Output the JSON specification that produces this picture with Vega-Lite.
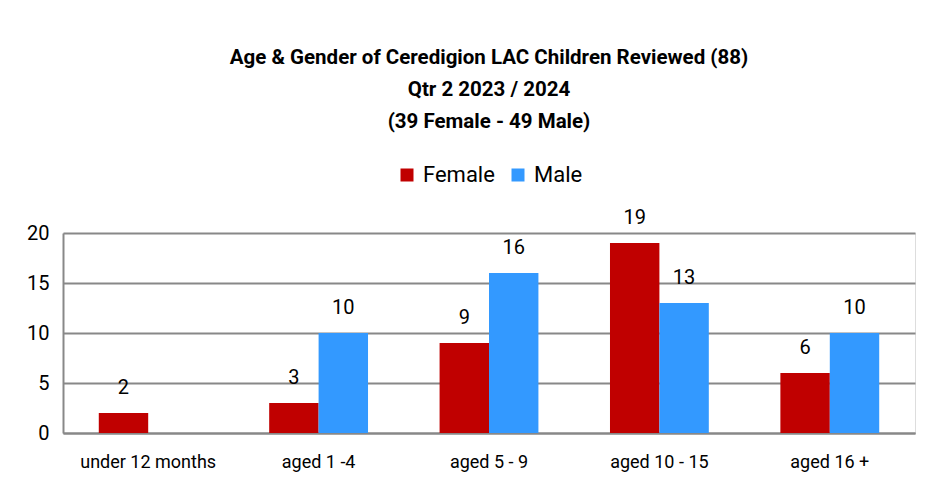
{
  "$schema": "https://vega.github.io/schema/vega-lite/v6.json",
  "width": 852,
  "height": 200,
  "autosize": {"type": "none"},
  "padding": {"left": 63, "top": 233, "right": 14, "bottom": 51},
  "background": "white",
  "title": {
    "text": ["Age & Gender of Ceredigion LAC Children Reviewed (88)", "Qtr 2 2023 / 2024", "(39 Female - 49 Male)"],
    "font": "Roboto, Liberation Sans, sans-serif",
    "fontSize": 20.5,
    "fontWeight": "bold",
    "lineHeight": 32,
    "anchor": "middle",
    "offset": 32,
    "color": "#000000"
  },
  "data": {
    "values": [
      {"age": "under 12 months", "gender": "Female", "count": 2},
      {"age": "under 12 months", "gender": "Male", "count": 0},
      {"age": "aged 1 -4", "gender": "Female", "count": 3},
      {"age": "aged 1 -4", "gender": "Male", "count": 10},
      {"age": "aged 5 - 9", "gender": "Female", "count": 9},
      {"age": "aged 5 - 9", "gender": "Male", "count": 16},
      {"age": "aged 10 - 15", "gender": "Female", "count": 19},
      {"age": "aged 10 - 15", "gender": "Male", "count": 13},
      {"age": "aged 16 +", "gender": "Female", "count": 6},
      {"age": "aged 16 +", "gender": "Male", "count": 10}
    ]
  },
  "encoding": {
    "x": {
      "field": "age",
      "type": "nominal",
      "sort": ["under 12 months", "aged 1 -4", "aged 5 - 9", "aged 10 - 15", "aged 16 +"],
      "scale": {"paddingInner": 0.42, "paddingOuter": 0.21},
      "axis": {
        "title": null,
        "labelAngle": 0,
        "ticks": false,
        "domainColor": "#888888",
        "domainWidth": 2,
        "labelFontSize": 18,
        "labelFont": "Roboto, Liberation Sans, sans-serif",
        "labelColor": "#000000",
        "labelPadding": 20
      }
    },
    "xOffset": {"field": "gender", "type": "nominal", "sort": ["Female", "Male"]},
    "y": {
      "field": "count",
      "type": "quantitative",
      "scale": {"domain": [0, 20]},
      "axis": {
        "title": null,
        "values": [0, 5, 10, 15, 20],
        "grid": true,
        "gridColor": "#888888",
        "gridWidth": 2,
        "domain": true,
        "domainColor": "#888888",
        "domainWidth": 2,
        "ticks": false,
        "labelFontSize": 20,
        "labelFont": "Roboto, Liberation Sans, sans-serif",
        "labelColor": "#000000",
        "labelPadding": 14
      }
    }
  },
  "layer": [
    {
      "mark": {"type": "bar"},
      "encoding": {
        "color": {
          "field": "gender",
          "type": "nominal",
          "scale": {"domain": ["Female", "Male"], "range": ["#C00000", "#3399FF"]},
          "legend": {
            "title": null,
            "orient": "none",
            "direction": "horizontal",
            "legendX": 333,
            "legendY": -69,
            "symbolType": "square",
            "symbolSize": 169,
            "symbolStrokeWidth": 0,
            "labelFontSize": 22,
            "labelFont": "Roboto, Liberation Sans, sans-serif",
            "labelColor": "#000000",
            "columnPadding": 12,
            "labelOffset": 5
          }
        }
      }
    },
    {
      "transform": [{"filter": "datum.count > 0"}],
      "mark": {
        "type": "text",
        "baseline": "middle",
        "dy": -25,
        "fontSize": 20,
        "font": "Roboto, Liberation Sans, sans-serif",
        "color": "#000000"
      },
      "encoding": {"text": {"field": "count", "type": "quantitative"}}
    }
  ]
}
